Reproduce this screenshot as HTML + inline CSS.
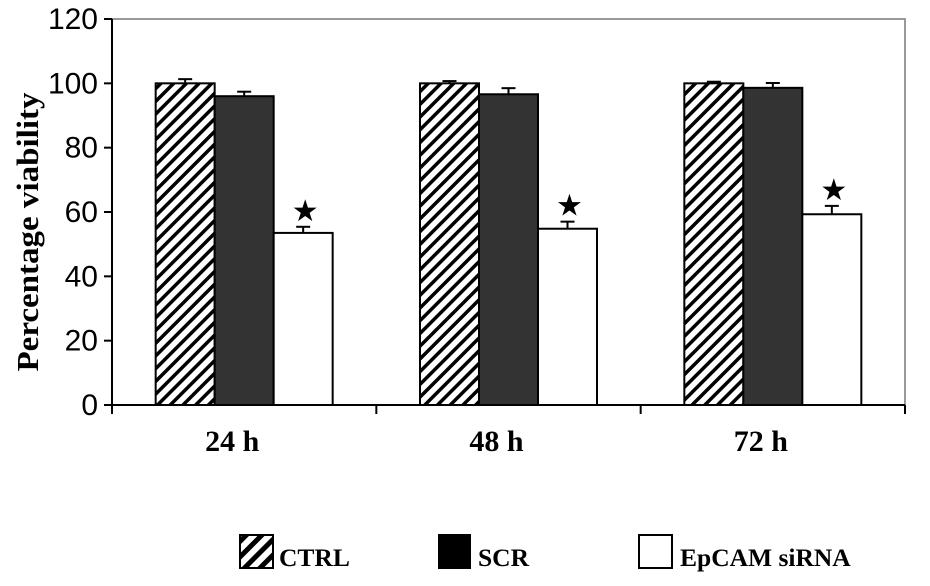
<!DOCTYPE html>
<html><head><meta charset="utf-8"><style>
body{margin:0;background:#fff;width:930px;height:586px;overflow:hidden}
svg{display:block}
</style></head><body>
<svg id="chart" width="930" height="586" xmlns="http://www.w3.org/2000/svg">
<defs>
<pattern id="hatch" patternUnits="userSpaceOnUse" width="9" height="9" patternTransform="rotate(45)">
<rect width="9" height="9" fill="#fff"/><rect x="0" y="0" width="3.5" height="9" fill="#000"/>
</pattern>
<pattern id="hatch2" patternUnits="userSpaceOnUse" width="11" height="11" patternTransform="rotate(45)">
<rect width="11" height="11" fill="#fff"/><rect x="0" y="0" width="5" height="11" fill="#000"/>
</pattern>
</defs>
<g id="plot"></g>
<text transform="translate(38,232) rotate(-90)" text-anchor="middle" font-family="Liberation Serif, serif" font-weight="bold" font-size="31" textLength="279" lengthAdjust="spacingAndGlyphs">Percentage viability</text>
<g font-family="Liberation Serif, serif" font-weight="bold" font-size="25.5">
<g><rect x="240" y="535" width="33" height="33" fill="url(#hatch2)" stroke="#000" stroke-width="2"/><text x="279" y="566">CTRL</text></g>
<g><rect x="439" y="535" width="31" height="33" fill="#000" stroke="#000" stroke-width="2"/><text x="478" y="566">SCR</text></g>
<g><rect x="639" y="535" width="33" height="33" fill="#fff" stroke="#000" stroke-width="2"/><text x="680" y="566">EpCAM siRNA</text></g>
</g>
</svg>
<script>
const categories=["24 h","48 h","72 h"];
const ctrlValues=[100,100,100];
const scrValues=[96,96.6,98.6];
const sirnaValues=[53.5,54.8,59.3];
const ctrlErr=[1.3,0.7,0.5];
const scrErr=[1.4,1.9,1.5];
const sirnaErr=[1.9,2.2,2.6];
const yTicks=[0,20,40,60,80,100,120];
const sigMarks=[true,true,true];

const NS="http://www.w3.org/2000/svg";
const g=document.getElementById('plot');
const X0=112,X1=905,Y0=405,Y1=19,YMAX=120;
const y=v=>Y0-(v/YMAX)*(Y0-Y1);
const gw=(X1-X0)/categories.length;
const bw=59;
const xBar=(i,s)=>X0+i*gw+(gw-3*bw)/2+s*bw;
function mk(t,a){const e=document.createElementNS(NS,t);for(const k in a)e.setAttribute(k,a[k]);g.appendChild(e);return e;}
let e=mk('polyline',{points:`${X0},${y(120)} ${X1},${y(120)} ${X1},${Y0}`,fill:'none',stroke:'#999','stroke-width':2});


e=mk('line',{x1:X0,y1:y(120),x2:X0,y2:Y0+1,stroke:'#000','stroke-width':2});


e=mk('line',{x1:X0,y1:Y0,x2:X1,y2:Y0,stroke:'#000','stroke-width':2});


yTicks.forEach(t=>{
 let l=mk('line',{x1:X0-8,x2:X0,y1:y(t),y2:y(t),stroke:'#000','stroke-width':2});
 
 
 let tx=mk('text',{x:X0-14,y:y(t)+10,'text-anchor':'end','font-family':'Liberation Sans, sans-serif','font-size':30});
 tx.textContent=t;
 
 
});
for(let i=0;i<=categories.length;i++){
 let l=mk('line',{x1:X0+i*gw,x2:X0+i*gw,y1:Y0,y2:Y0+9,stroke:'#000','stroke-width':2});
 
 
}
const series=[[ctrlValues,ctrlErr,'url(#hatch)','ctrl'],[scrValues,scrErr,'#333','scr'],[sirnaValues,sirnaErr,'#fff','epcam']];
categories.forEach((c,i)=>{
 let tx=mk('text',{x:X0+i*gw+gw/2-12,y:451,'text-anchor':'middle','font-family':'Liberation Serif, serif','font-weight':'bold','font-size':30});
 tx.textContent=c;
 
 
 series.forEach(([vals,errs,fill,nm],s)=>{
  const x=xBar(i,s),top=y(vals[i]),et=y(vals[i]+errs[i]),cx=x+bw/2;
  let el=mk('line',{x1:cx,x2:cx,y1:top,y2:et,stroke:'#000','stroke-width':2});
  
  
  el=mk('line',{x1:cx-7,x2:cx+7,y1:et,y2:et,stroke:'#000','stroke-width':2});
  
  
  let r=mk('rect',{x:x,y:top,width:bw,height:Y0-top,fill:fill,stroke:'#000','stroke-width':2});
  
  
  if(s===2&&sigMarks[i]){
   let st=mk('text',{x:cx+2,y:et-6,'text-anchor':'middle','font-family':'DejaVu Sans, sans-serif','font-weight':'bold','font-size':30});
   st.textContent='\u2605';
   
   
  }
 });
});
</script>
</body></html>
